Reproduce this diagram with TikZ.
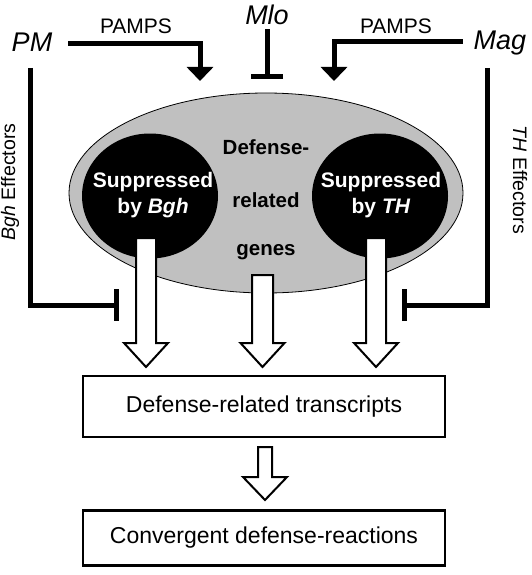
\documentclass[tikz,border=0pt]{standalone}
\usepackage{fontspec}
\setmainfont{Liberation Sans}
\usetikzlibrary{arrows.meta,shapes.geometric}
\definecolor{ellgray}{RGB}{192,192,192}
\tikzset{
  big/.style={font=\fontsize{27}{30}\selectfont\itshape, inner sep=0pt},
  pamps/.style={font=\fontsize{21}{24}\selectfont, inner sep=0pt},
  efflab/.style={font=\fontsize{19.5}{22}\selectfont, inner sep=0pt},
  conn/.style={line width=5pt},
  actarrow/.style={conn,-{Triangle[width=26pt,length=14pt]}},
  inharrow/.style={conn,-{Bar[width=32pt]}},
  suppshape/.style={ellipse, fill=black, minimum width=136pt, minimum height=125pt, inner sep=0pt},
  supptext/.style={text=white, align=center, inner sep=0pt, font=\fontsize{21}{26}\selectfont\bfseries},
  genes/.style={font=\fontsize{20.5}{22}\selectfont\bfseries, inner sep=0pt},
  barrow/.style={draw=black, fill=white, line width=2pt, line join=miter},
  outbox/.style={draw=black, line width=2.5pt, minimum width=362pt, inner sep=0pt,
                 font=\fontsize{23}{26}\selectfont}
}
\newcommand\blockarr[5]{% x, ytop, ytip, shaft half, head length
  \draw[barrow] ({#1-#4},#2) -- ({#1+#4},#2) -- ({#1+#4},{#3-#5}) -- ({#1+22},{#3-#5})
    -- (#1,#3) -- ({#1-22},{#3-#5}) -- ({#1-#4},{#3-#5}) -- cycle;}
\begin{document}
\begin{tikzpicture}[x=1pt,y=-1pt]
\useasboundingbox (0,0) rectangle (531,575);
% big ellipse
\node[ellipse, draw=black, line width=0.8pt, fill=ellgray, minimum width=394pt, minimum height=200pt] (ell) at (266,193) {};
% suppressed circles
\node[suppshape] (cbgh) at (150,196) {};
\node[suppshape] (cth) at (380,196) {};
\node[supptext] (sbgh) at (153,195) {Suppressed\\by \textit{Bgh}};
\node[supptext] (sth) at (381,195) {Suppressed\\by \textit{TH}};
% defense-related genes text
\node[genes] (g1) at (266,147) {Defense-};
\node[genes] (g2) at (266,200) {related};
\node[genes] (g3) at (266,252) {genes};
% top labels
\node[big] (pm) at (32,42) {PM};
\node[big] (mlo) at (267,15) {Mlo};
\node[big] (mag) at (500,43) {Mag};
\node[pamps] (p1) at (136,26) {PAMPS};
\node[pamps] (p2) at (396,26) {PAMPS};
% effector labels
\node[efflab, rotate=90] (bghlab) at (10,182) {\textit{Bgh} Effectors};
\node[efflab, rotate=-90] (thlab) at (520,180) {\textit{TH} Effectors};
% coordinates
\coordinate (pmA) at (200,81);
\coordinate (magA) at (334,81);
\coordinate (mloE) at (267,79);
\coordinate (bghS) at (30.5,68);
\coordinate (bghE) at (119,305);
\coordinate (thS) at (487.5,68);
\coordinate (thE) at (402,305);
% connectors
\draw[actarrow] ([xshift=16pt,yshift=-2pt]pm.east) -| (pmA);
\draw[actarrow] ([xshift=-11pt,yshift=1pt]mag.west) -| (magA);
\draw[inharrow] ([yshift=-4pt]mlo.south) -- (mloE);
\draw[inharrow] (bghS) |- (bghE);
\draw[inharrow] (thS) |- (thE);
% boxes
\node[outbox, minimum height=61pt] (tr) at (264,406.5) {Defense-related transcripts};
\node[outbox, minimum height=55pt] (cd) at (264,538) {Convergent defense-reactions};
% block arrows
\blockarr{146}{238}{367}{10}{24}
\blockarr{262.5}{275}{367}{10.5}{24}
\blockarr{376}{238}{367}{10}{24}
\blockarr{265}{447}{500}{7}{23}
\end{tikzpicture}
\end{document}
